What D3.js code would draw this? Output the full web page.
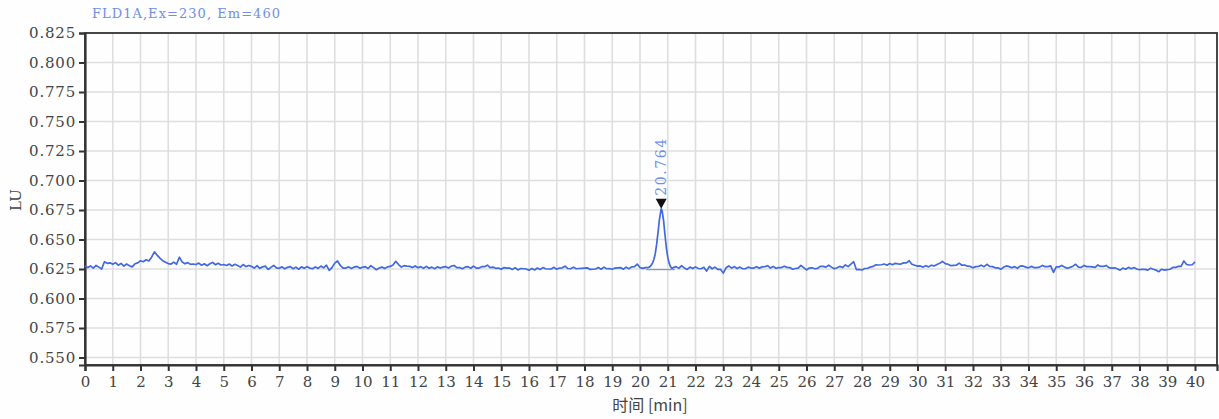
<!DOCTYPE html>
<html><head><meta charset="utf-8">
<script src="https://cdn.jsdelivr.net/npm/d3@7"></script>
<style>
body{margin:0;background:#fff;}
svg{display:block;}
</style></head>
<body><svg id="c" width="1219" height="419"></svg>
<script>
// ---- data ----
const chartTitle = "FLD1A,Ex=230,  Em=460";
const xLabel = "时间 [min]";
const yLabel = "LU";
const xTicks = d3.range(0, 41);                 // minutes 0..40
const yTicks = [0.550,0.575,0.600,0.625,0.650,0.675,0.700,0.725,0.750,0.775,0.800,0.825];
const sampleStep = 0.1;                         // minutes between baseline samples
const baseLU = [
 0.6275,0.6262,0.6276,0.6258,0.6280,0.6266,0.6250,0.6312,0.6298,0.6302,
 0.6290,0.6304,0.6282,0.6298,0.6274,0.6292,0.6278,0.6268,0.6294,0.6302,
 0.6320,0.6312,0.6328,0.6318,0.6350,0.6395,0.6368,0.6342,0.6320,0.6308,
 0.6296,0.6292,0.6308,0.6290,0.6350,0.6310,0.6294,0.6304,0.6290,0.6292,
 0.6288,0.6300,0.6282,0.6294,0.6278,0.6294,0.6306,0.6286,0.6298,0.6284,
 0.6288,0.6280,0.6292,0.6276,0.6290,0.6280,0.6266,0.6288,0.6270,0.6280,
 0.6272,0.6258,0.6278,0.6256,0.6268,0.6274,0.6246,0.6264,0.6280,0.6260,
 0.6256,0.6268,0.6252,0.6264,0.6270,0.6252,0.6266,0.6248,0.6268,0.6256,
 0.6270,0.6258,0.6252,0.6268,0.6255,0.6275,0.6260,0.6282,0.6238,0.6262,
 0.6300,0.6318,0.6280,0.6258,0.6258,0.6268,0.6254,0.6266,0.6272,0.6258,
 0.6264,0.6270,0.6254,0.6278,0.6262,0.6244,0.6258,0.6266,0.6254,0.6268,
 0.6272,0.6284,0.6315,0.6288,0.6266,0.6278,0.6274,0.6272,0.6262,0.6276,
 0.6260,0.6270,0.6256,0.6272,0.6256,0.6266,0.6252,0.6268,0.6258,0.6266,
 0.6270,0.6258,0.6274,0.6280,0.6262,0.6262,0.6252,0.6266,0.6270,0.6256,
 0.6274,0.6258,0.6258,0.6270,0.6270,0.6282,0.6262,0.6266,0.6256,0.6258,
 0.6248,0.6262,0.6258,0.6258,0.6246,0.6262,0.6242,0.6254,0.6252,0.6250,
 0.6240,0.6254,0.6242,0.6258,0.6246,0.6262,0.6252,0.6250,0.6250,0.6264,
 0.6248,0.6258,0.6260,0.6274,0.6254,0.6252,0.6266,0.6252,0.6254,0.6256,
 0.6258,0.6260,0.6246,0.6248,0.6250,0.6262,0.6248,0.6266,0.6252,0.6254,
 0.6248,0.6258,0.6260,0.6262,0.6248,0.6266,0.6252,0.6268,0.6270,0.6292,
 0.6262,0.6255,0.6262,0.6270,0.6330,0.6460,0.6670,0.6750,0.6660,0.6430,
 0.6300,0.6262,0.6250,0.6270,0.6255,0.6278,0.6258,0.6246,0.6266,0.6254,
 0.6268,0.6254,0.6252,0.6264,0.6232,0.6272,0.6252,0.6266,0.6246,0.6248,
 0.6215,0.6260,0.6276,0.6258,0.6270,0.6254,0.6266,0.6252,0.6252,0.6266,
 0.6258,0.6258,0.6270,0.6256,0.6268,0.6270,0.6278,0.6258,0.6272,0.6256,
 0.6262,0.6262,0.6274,0.6264,0.6262,0.6248,0.6254,0.6258,0.6280,0.6262,
 0.6242,0.6258,0.6260,0.6252,0.6256,0.6272,0.6272,0.6266,0.6282,0.6266,
 0.6252,0.6260,0.6272,0.6262,0.6284,0.6270,0.6292,0.6312,0.6244,0.6246,
 0.6242,0.6254,0.6256,0.6266,0.6272,0.6286,0.6284,0.6286,0.6292,0.6282,
 0.6296,0.6286,0.6298,0.6294,0.6292,0.6302,0.6302,0.6320,0.6290,0.6282,
 0.6274,0.6276,0.6266,0.6278,0.6268,0.6282,0.6276,0.6288,0.6298,0.6314,
 0.6296,0.6290,0.6278,0.6280,0.6282,0.6300,0.6282,0.6284,0.6274,0.6272,
 0.6260,0.6270,0.6272,0.6282,0.6270,0.6290,0.6272,0.6270,0.6260,0.6260,
 0.6248,0.6264,0.6276,0.6270,0.6260,0.6270,0.6256,0.6274,0.6276,0.6266,
 0.6260,0.6272,0.6262,0.6262,0.6266,0.6280,0.6270,0.6270,0.6276,0.6222,
 0.6268,0.6268,0.6280,0.6266,0.6256,0.6264,0.6274,0.6290,0.6266,0.6264,
 0.6280,0.6270,0.6270,0.6268,0.6264,0.6284,0.6272,0.6272,0.6280,0.6262,
 0.6258,0.6260,0.6252,0.6240,0.6258,0.6248,0.6264,0.6252,0.6262,0.6250,
 0.6244,0.6248,0.6247,0.6240,0.6257,0.6248,0.6240,0.6227,0.6248,0.6240,
 0.6244,0.6248,0.6263,0.6263,0.6272,0.6273,0.6318,0.6288,0.6284,0.6286,
 0.6310
];
// finer sampling across the peak
const peakTimes = [20.30,20.35,20.40,20.45,20.50,20.55,20.60,20.65,20.70,20.764,20.80,20.85,20.90,20.95,21.00,21.05,21.10,21.15,21.20];
const peakLU    = [0.6262,0.6268,0.6280,0.6300,0.6330,0.6380,0.6460,0.6560,0.6670,0.6760,0.6740,0.6660,0.6540,0.6430,0.6350,0.6300,0.6270,0.6255,0.6262];
const peakLabel = "20.764";
const peakRT = 20.764;
const peakTopLU = 0.6760;
const peakBaseStart = 20.22, peakBaseEnd = 21.25, peakBaseLU = 0.6245;

// ---- build series ----
let series = baseLU.map((v,i)=>({t:+(i*sampleStep).toFixed(2), v}));
series = series.filter(d => d.t < peakTimes[0] || d.t > peakTimes[peakTimes.length-1]);
peakTimes.forEach((t,i)=>series.push({t, v:peakLU[i]}));
series.sort((a,b)=>a.t-b.t);

// ---- scales ----
const svg = d3.select("#c");
const mLeft = 85, mRight = 1217, mTop = 33, mBottom = 365;
const x = d3.scaleLinear().domain([0, 40.793]).range([mLeft, mRight]);
const y = d3.scaleLinear().domain([0.54364, 0.825]).range([mBottom, mTop]);

svg.append("rect").attr("width",1219).attr("height",419).attr("fill","#fefefe");

// grid
const grid = svg.append("g");
grid.selectAll("line.v").data(xTicks.slice(1)).join("line")
  .attr("x1",d=>x(d)).attr("x2",d=>x(d)).attr("y1",mTop).attr("y2",mBottom)
  .attr("stroke","#dedede").attr("stroke-width",1.6);
grid.selectAll("line.h").data(yTicks.filter(d=>d<0.825)).join("line")
  .attr("x1",mLeft).attr("x2",mRight).attr("y1",d=>y(d)).attr("y2",d=>y(d))
  .attr("stroke","#dedede").attr("stroke-width",1.6);

// frame
svg.append("rect").attr("x",mLeft).attr("y",mTop).attr("width",mRight-mLeft).attr("height",mBottom-mTop)
  .attr("fill","none").attr("stroke","#333").attr("stroke-width",1.8);

// axes
const tickFont = "'DejaVu Serif', 'Liberation Serif', serif";
const yAxis = svg.append("g").attr("transform",`translate(${mLeft},0)`)
  .call(d3.axisLeft(y).tickValues(yTicks).tickSize(6).tickPadding(3).tickFormat(d3.format(".3f")));
const xAxis = svg.append("g").attr("transform",`translate(0,${mBottom})`)
  .call(d3.axisBottom(x).tickValues(xTicks).tickSize(6).tickPadding(5).tickFormat(d3.format("d")));
[yAxis,xAxis].forEach(a=>{
  a.select(".domain").attr("stroke","#333").attr("stroke-width",2.2);
  a.selectAll(".tick line").attr("stroke","#333").attr("stroke-width",2);
  a.selectAll(".tick text").attr("fill","#444").style("font-family",tickFont).style("font-size","15px");
});
yAxis.selectAll(".tick text").style("letter-spacing","0.8px");

// signal line
const line = d3.line().x(d=>x(d.t)).y(d=>y(d.v));
svg.append("path").datum(series).attr("d",line)
  .attr("fill","none").attr("stroke","#4169e1").attr("stroke-width",1.7).attr("stroke-linejoin","round");

// peak baseline
svg.append("line").attr("x1",x(peakBaseStart)).attr("x2",x(peakBaseEnd))
  .attr("y1",y(peakBaseLU)).attr("y2",y(peakBaseLU))
  .attr("stroke","#7f95d8").attr("stroke-width",1.2);

// peak marker
const px = x(peakRT), py = y(peakTopLU);
svg.append("path").attr("d",`M${px-5.5},${py-10}L${px+5.5},${py-10}L${px},${py}Z`).attr("fill","#111");
svg.append("text").attr("transform",`translate(${px+5},${py-13}) rotate(-90)`)
  .attr("fill","#6f8fe8").style("font-family",tickFont).style("font-size","14px")
  .attr("textLength",57).attr("lengthAdjust","spacing").text(peakLabel);

// titles
svg.append("text").attr("x",92).attr("y",18).attr("fill","#6f8fe8")
  .style("font-family",tickFont).style("font-size","13px")
  .attr("textLength",188).attr("lengthAdjust","spacing").text(chartTitle);
svg.append("text").attr("transform","translate(21,200) rotate(-90)").attr("text-anchor","middle")
  .attr("fill","#444").style("font-family",tickFont).style("font-size","15px").text(yLabel);
svg.append("text").attr("x",650).attr("y",411).attr("text-anchor","middle")
  .attr("fill","#444").style("font-family","'Noto Sans CJK SC', sans-serif").style("font-size","16px").text(xLabel);
</script></body></html>
